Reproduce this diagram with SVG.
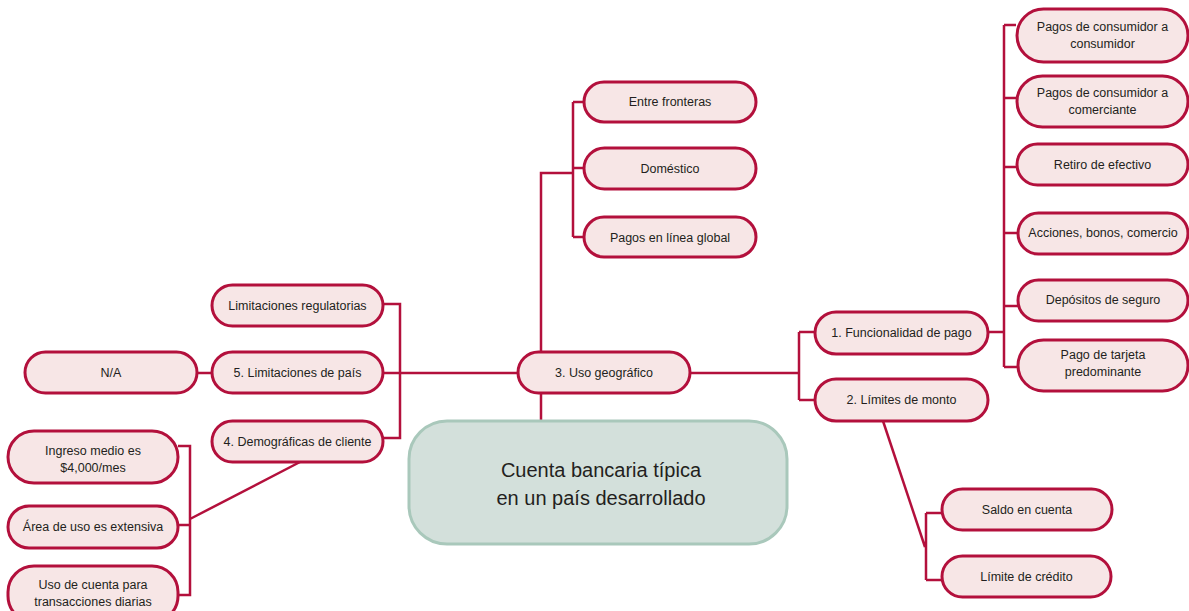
<svg xmlns="http://www.w3.org/2000/svg" width="1189" height="611" viewBox="0 0 1189 611">
<style>
.n rect{fill:#f7e6e6;stroke:#b3103c;stroke-width:3}
.n text{font-family:"Liberation Sans",Arial,sans-serif;font-size:12.5px;fill:#231f20;text-anchor:middle}
.c{fill:none;stroke:#b3103c;stroke-width:2.5}
.main rect{fill:#d3e0db;stroke:#a9c8bb;stroke-width:3}
.main text{font-family:"Liberation Sans",Arial,sans-serif;font-size:20px;fill:#231f20;text-anchor:middle}
</style>
<rect width="1189" height="611" fill="#ffffff"/>
<g id="connectors">
<path class="c" d="M541,420 V173 H573 M573,102 V237 M573,102 H584 M573,168 H584 M573,237 H584"/>
<path class="c" d="M383,373 H517 M197,373 H212 M383,304 H400 V438 H383"/>
<path class="c" d="M690,373 H799 M799,332 V400 M799,332 H815 M799,400 H815"/>
<path class="c" d="M988,332 H1004 M1004,25 V367 M1004,25 H1016 M1004,98 H1016 M1004,167 H1016 M1004,233 H1018 M1004,306 H1018 M1004,367 H1018"/>
<path class="c" d="M883,421 L925,547 M926,513 V580 M926,513 H942 M926,580 H942"/>
<path class="c" d="M300,462 L190,519 M178,446 H190 V595 H178 M178,525 H190"/>
</g>
<g id="main" class="main">
<rect x="409" y="421" width="378" height="123" rx="38"/>
<text x="601" y="477">Cuenta bancaria típica</text>
<text x="601" y="505">en un país desarrollado</text>
</g>
<g id="uso" class="n"><rect x="518" y="352" width="172" height="41" rx="20.5"/><text x="604" y="377">3. Uso geográfico</text></g>
<g id="entre" class="n"><rect x="584" y="82" width="172" height="40" rx="20"/><text x="670" y="106">Entre fronteras</text></g>
<g id="domestico" class="n"><rect x="584" y="148" width="172" height="41" rx="20.5"/><text x="670" y="173">Doméstico</text></g>
<g id="enlinea" class="n"><rect x="584" y="217" width="172" height="40" rx="20"/><text x="670" y="242">Pagos en línea global</text></g>
<g id="regul" class="n"><rect x="212" y="285" width="171" height="41" rx="20.5"/><text x="297.5" y="310">Limitaciones regulatorias</text></g>
<g id="pais" class="n"><rect x="212" y="352" width="171" height="41" rx="20.5"/><text x="297.5" y="377">5. Limitaciones de país</text></g>
<g id="na" class="n"><rect x="25" y="352" width="172" height="41" rx="20.5"/><text x="111" y="377">N/A</text></g>
<g id="demog" class="n"><rect x="212" y="421" width="171" height="41" rx="20.5"/><text x="297.5" y="446">4. Demográficas de cliente</text></g>
<g id="ingreso" class="n"><rect x="8" y="431" width="170" height="52" rx="26"/><text x="93" y="455">Ingreso medio es</text><text x="93" y="472">$4,000/mes</text></g>
<g id="area" class="n"><rect x="8" y="506" width="170" height="42" rx="21"/><text x="93" y="531">Área de uso es extensiva</text></g>
<g id="usocuenta" class="n"><rect x="8" y="566" width="170" height="56" rx="26"/><text x="93" y="589">Uso de cuenta para</text><text x="93" y="606">transacciones diarias</text></g>
<g id="func" class="n"><rect x="815" y="312" width="173" height="42" rx="21"/><text x="901.5" y="337">1. Funcionalidad de pago</text></g>
<g id="limites" class="n"><rect x="815" y="379" width="173" height="42" rx="21"/><text x="901.5" y="404">2. Límites de monto</text></g>
<g id="c2c" class="n"><rect x="1017" y="9" width="171" height="53" rx="26.5"/><text x="1102.5" y="31">Pagos de consumidor a</text><text x="1102.5" y="48">consumidor</text></g>
<g id="c2m" class="n"><rect x="1017" y="76" width="171" height="51" rx="25.5"/><text x="1102.5" y="97">Pagos de consumidor a</text><text x="1102.5" y="114">comerciante</text></g>
<g id="retiro" class="n"><rect x="1017" y="144" width="171" height="41" rx="20.5"/><text x="1102.5" y="169">Retiro de efectivo</text></g>
<g id="acciones" class="n"><rect x="1018" y="213" width="170" height="41" rx="20.5"/><text x="1103" y="237">Acciones, bonos, comercio</text></g>
<g id="depositos" class="n"><rect x="1018" y="280" width="170" height="41" rx="20.5"/><text x="1103" y="304">Depósitos de seguro</text></g>
<g id="tarjeta" class="n"><rect x="1018" y="340" width="170" height="51" rx="25.5"/><text x="1103" y="359">Pago de tarjeta</text><text x="1103" y="376">predominante</text></g>
<g id="saldo" class="n"><rect x="942" y="489" width="170" height="41" rx="20.5"/><text x="1027" y="514">Saldo en cuenta</text></g>
<g id="credito" class="n"><rect x="942" y="556" width="169" height="41" rx="20.5"/><text x="1026.5" y="581">Límite de crédito</text></g>
</svg>
